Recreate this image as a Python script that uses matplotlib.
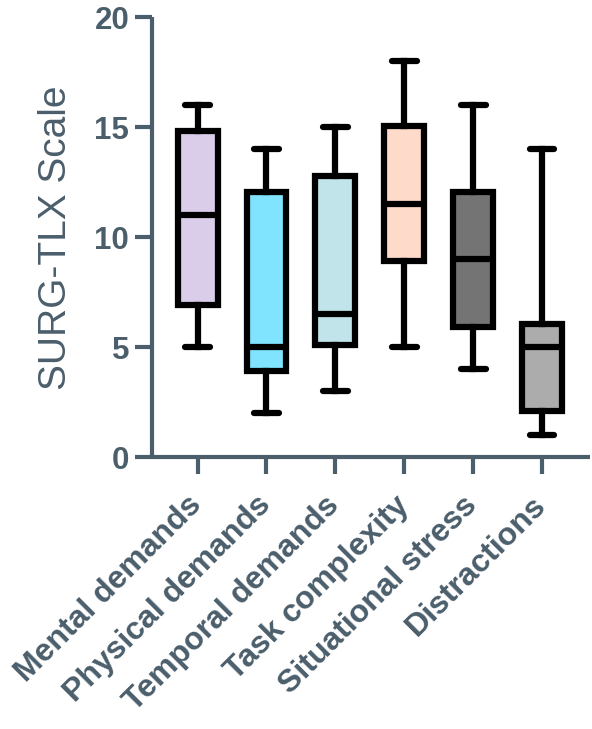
import matplotlib
matplotlib.use("Agg")
import matplotlib.pyplot as plt
from matplotlib.transforms import ScaledTranslation

# SURG-TLX sub-scale distributions (min, Q1, median, Q3, max)
categories = ["Mental demands", "Physical demands", "Temporal demands",
              "Task complexity", "Situational stress", "Distractions"]
mins = [5, 2, 3, 5, 4, 1]
q1s = [6.9, 3.9, 5.1, 8.9, 5.9, 2.1]
medians = [11, 5, 6.5, 11.5, 9, 5]
q3s = [14.85, 12.05, 12.8, 15.05, 12.05, 6.05]
maxs = [16, 14, 15, 18, 16, 14]
colors = ["#d9cdea", "#80e4fe", "#c0e4ea", "#fddac9", "#747474", "#acacac"]

axis_col = "#4b5e6b"

plt.rcParams['font.family'] = ['Liberation Sans', 'DejaVu Sans']

fig = plt.figure(figsize=(5.92, 7.29), dpi=100)
ax = fig.add_axes([0.257, 0.373, 0.74, 0.603])

stats = []
for i, name in enumerate(categories):
    stats.append({"label": name, "whislo": mins[i], "q1": q1s[i],
                  "med": medians[i], "q3": q3s[i], "whishi": maxs[i]})

bp = ax.bxp(stats, positions=range(1, 7), widths=0.58, patch_artist=True,
            showfliers=False,
            boxprops=dict(linewidth=4.5, edgecolor="black"),
            medianprops=dict(linewidth=4.5, color="black", solid_capstyle="butt"),
            whiskerprops=dict(linewidth=4.5, color="black"),
            capprops=dict(linewidth=4.5, color="black", solid_capstyle="round"),
            capwidths=0.36)
for patch, c in zip(bp["boxes"], colors):
    patch.set_facecolor(c)
    patch.set_joinstyle("miter")

ax.set_xlim(0.34, 6.7)
ax.set_ylim(0, 20)
ax.set_yticks([0, 5, 10, 15, 20])

for side in ["top", "right"]:
    ax.spines[side].set_visible(False)
for side in ["left", "bottom"]:
    ax.spines[side].set_color(axis_col)
    ax.spines[side].set_linewidth(3)
    ax.spines[side].set_capstyle("butt")

ax.tick_params(axis="both", colors=axis_col, width=3, length=12.5)
ax.tick_params(axis="y", pad=4, labelsize=22.5)
for lab in ax.get_yticklabels():
    lab.set_fontweight("bold")

ax.set_xticklabels(categories, rotation=45, ha="right", va="baseline",
                   rotation_mode="anchor", fontsize=23, fontweight="bold",
                   color=axis_col)
ax.tick_params(axis="x", pad=23)
# nudge the slanted labels a little to the right, as in the original
shift = ScaledTranslation(4 / 72, 0, fig.dpi_scale_trans)
for lab in ax.get_xticklabels():
    lab.set_transform(lab.get_transform() + shift)

ax.set_ylabel("SURG-TLX Scale", fontsize=28, color=axis_col)
ax.yaxis.set_label_coords(-0.178, 0.5)

fig.savefig("out.png", dpi=100)
